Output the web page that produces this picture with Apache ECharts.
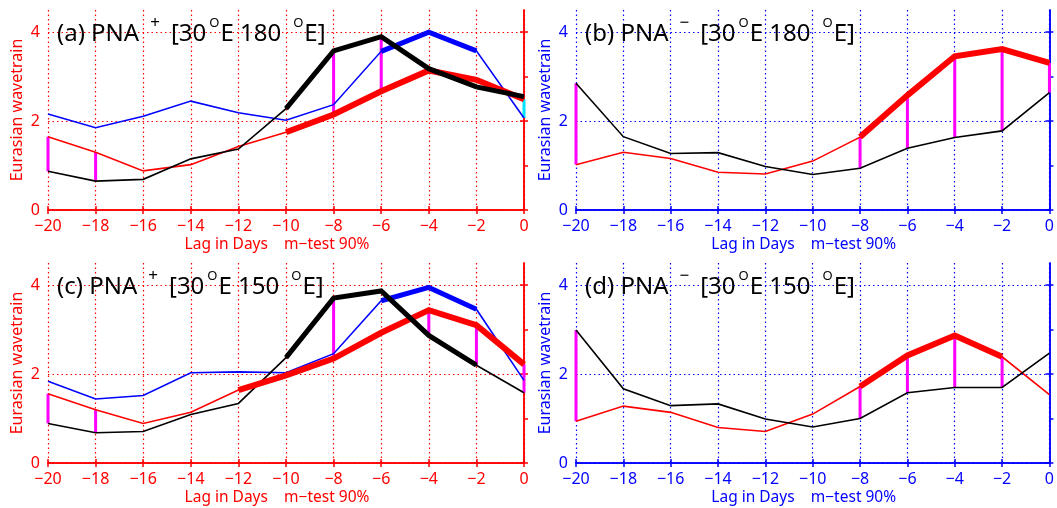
<!DOCTYPE html>
<html>
<head>
<meta charset="utf-8">
<script src="https://cdn.jsdelivr.net/npm/echarts@6/dist/echarts.min.js"></script>
<style>
  html, body { margin: 0; background: #fff; }
  #main { width: 1057px; height: 508px; }
</style>
</head>
<body>
<div id="main"></div>
<script>
// lag axis (days) shared by all four panels
var lags = [-20, -18, -16, -14, -12, -10, -8, -6, -4, -2, 0];
var yLabels = [0, 2, 4];
var yTicks = [0, 1, 2, 3, 4];

// (a) PNA+ [30E 180E]
var aRed   = [1.65, 1.30, 0.88, 1.02, 1.43, 1.75, 2.15, 2.67, 3.14, 2.93, 2.49];
var aBlack = [0.87, 0.65, 0.69, 1.15, 1.37, 2.28, 3.58, 3.90, 3.18, 2.77, 2.55];
var aBlue  = [2.16, 1.85, 2.11, 2.45, 2.19, 2.02, 2.37, 3.57, 4.00, 3.58, 2.07];
var aRedSig = [-10, 0], aBlackSig = [-10, 0], aBlueSig = [-6, -2];
var aDiffLags = [-20, -18, -8, -6]; // red vs black, magenta
var aCyanLags = [0];                // red vs blue, cyan

// (b) PNA- [30E 180E]
var bRed   = [1.02, 1.30, 1.16, 0.85, 0.81, 1.10, 1.64, 2.58, 3.46, 3.62, 3.31];
var bBlack = [2.85, 1.65, 1.27, 1.29, 0.98, 0.80, 0.94, 1.39, 1.63, 1.78, 2.64];
var bRedSig = [-8, 0];
var bDiffLags = [-20, -8, -6, -4, -2, 0];

// (c) PNA+ [30E 150E]
var cRed   = [1.56, 1.20, 0.89, 1.14, 1.64, 1.97, 2.35, 2.93, 3.44, 3.10, 2.22];
var cBlack = [0.89, 0.68, 0.71, 1.09, 1.34, 2.37, 3.71, 3.87, 2.87, 2.20, 1.58];
var cBlue  = [1.84, 1.44, 1.52, 2.03, 2.05, 2.03, 2.46, 3.65, 3.95, 3.46, 1.86];
var cRedSig = [-12, 0], cBlackSig = [-10, -2], cBlueSig = [-6, -2];
var cDiffLags = [-20, -18, -8, -4, -2, 0];

// (d) PNA- [30E 150E]
var dRed   = [0.94, 1.28, 1.14, 0.80, 0.71, 1.10, 1.72, 2.42, 2.87, 2.39, 1.54];
var dBlack = [2.99, 1.67, 1.29, 1.33, 0.99, 0.81, 1.00, 1.58, 1.70, 1.70, 2.47];
var dRedSig = [-8, -2];
var dDiffLags = [-20, -8, -6, -4, -2];

var panels = [
  { tag: 'a', sign: '+', lon: '180', red: aRed, black: aBlack, blue: aBlue,
    redSig: aRedSig, blackSig: aBlackSig, blueSig: aBlueSig, diff: aDiffLags, cyan: aCyanLags },
  { tag: 'b', sign: '\u2212', lon: '180', red: bRed, black: bBlack,
    redSig: bRedSig, diff: bDiffLags },
  { tag: 'c', sign: '+', lon: '150', red: cRed, black: cBlack, blue: cBlue,
    redSig: cRedSig, blackSig: cBlackSig, blueSig: cBlueSig, diff: cDiffLags },
  { tag: 'd', sign: '\u2212', lon: '150', red: dRed, black: dBlack,
    redSig: dRedSig, diff: dDiffLags }
];

// grid boxes: left column red frame, right column blue frame
var layout = [
  { left: 48, top: 10, color: '#ff0000' },
  { left: 576, top: 10, color: '#0000ff' },
  { left: 48, top: 263, color: '#ff0000' },
  { left: 576, top: 263, color: '#0000ff' }
];

var FONT = 'Noto Sans';

function pairs(vals) {
  return lags.map(function (x, i) { return [x, vals[i]]; });
}
function sigPairs(vals, range) {
  return lags.map(function (x, i) {
    return (x >= range[0] && x <= range[1]) ? [x, vals[i]] : [x, null];
  });
}
function diffPairs(days, top, bottom) {
  return days.map(function (d) {
    var i = lags.indexOf(d);
    return [d, top[i], bottom[i]];
  });
}
function minusFmt(v) {
  return v < 0 ? '\u2212' + Math.abs(v) : String(v);
}

function lineSeries(idx, data, color, width, z) {
  return {
    type: 'line', xAxisIndex: idx * 2, yAxisIndex: idx * 2,
    data: data, showSymbol: false, symbol: 'none', silent: true,
    connectNulls: false, z: z,
    lineStyle: { color: color, width: width, cap: 'butt', join: 'miter' }
  };
}
function diffSeries(idx, data, color) {
  return {
    type: 'custom', xAxisIndex: idx * 2, yAxisIndex: idx * 2,
    data: data, silent: true, z: 1,
    encode: { x: 0, y: [1, 2] },
    renderItem: function (params, api) {
      var p1 = api.coord([api.value(0), api.value(1)]);
      var p2 = api.coord([api.value(0), api.value(2)]);
      return {
        type: 'line',
        shape: { x1: p1[0], y1: p1[1], x2: p2[0], y2: p2[1] },
        style: { stroke: color, lineWidth: 3 }
      };
    }
  };
}

var grids = [], xAxes = [], yAxes = [], series = [], titles = [];

layout.forEach(function (g, idx) {
  var p = panels[idx];
  var c = g.color;
  var dots = { color: c, width: 1.2, type: [1.5, 3] };
  var tick = { lineStyle: { color: c, width: 1.5 }, length: 4 };
  grids.push({ left: g.left, top: g.top, width: 476, height: 200, show: false });

  // bottom + top x axes
  xAxes.push({
    gridIndex: idx, type: 'value', min: -20, max: 0, interval: 2,
    axisLine: { lineStyle: { color: c, width: 1.5 } },
    axisTick: tick,
    axisLabel: { color: c, fontSize: 16, fontFamily: FONT, margin: 8, formatter: minusFmt },
    splitLine: { show: true, lineStyle: dots },
    name: 'Lag in Days    m\u2212test 90%', nameLocation: 'middle', nameGap: 27,
    nameTextStyle: { color: c, fontSize: 15.5, fontFamily: FONT, padding: [0, 18, 0, 0] }
  });
  xAxes.push({
    gridIndex: idx, type: 'value', position: 'top', min: -20, max: 0, interval: 2,
    axisLine: { lineStyle: { color: c, width: 1.5 } },
    axisTick: tick,
    axisLabel: { show: false }, splitLine: { show: false }
  });

  // left + right y axes
  yAxes.push({
    gridIndex: idx, type: 'value', min: 0, max: 4.5, interval: 1,
    axisLine: { show: true, lineStyle: { color: c, width: 1.5 } },
    axisTick: { show: true, lineStyle: tick.lineStyle, length: 4, customValues: yLabels },
    axisLabel: {
      color: c, fontSize: 16, fontFamily: FONT, margin: 8, customValues: yLabels
    },
    splitLine: { show: true, lineStyle: dots },
    name: 'Eurasian wavetrain', nameLocation: 'middle', nameGap: 23, nameRotate: 90,
    nameTextStyle: { color: c, fontSize: 16, fontFamily: FONT }
  });
  yAxes.push({
    gridIndex: idx, type: 'value', position: 'right', min: 0, max: 4.5, interval: 1,
    axisLine: { show: true, lineStyle: { color: c, width: 1.5 } },
    axisTick: { show: true, lineStyle: tick.lineStyle, length: 4, customValues: yTicks },
    axisLabel: { show: false }, splitLine: { show: false }
  });

  // difference bars under the curves
  series.push(diffSeries(idx, diffPairs(p.diff, p.red, p.black), '#ff00ff'));
  if (p.cyan) series.push(diffSeries(idx, diffPairs(p.cyan, p.red, p.blue), '#00e5ff'));

  // thin full curves, thick where significant
  series.push(lineSeries(idx, pairs(p.red), '#ff0000', 1.6, 3));
  if (p.blue) series.push(lineSeries(idx, pairs(p.blue), '#0000ff', 1.6, 3));
  series.push(lineSeries(idx, pairs(p.black), '#000000', 1.6, 3));
  series.push(lineSeries(idx, sigPairs(p.red, p.redSig), '#ff0000', 6, 4));
  if (p.blueSig) series.push(lineSeries(idx, sigPairs(p.blue, p.blueSig), '#0000ff', 5, 4));
  if (p.blackSig) series.push(lineSeries(idx, sigPairs(p.black, p.blackSig), '#000000', 5, 4));

  titles.push({
    left: g.left + 4, top: g.top,
    text: '{m|(' + p.tag + ') PNA}{p|' + p.sign + '}{m|[30}{o|O}{m|E ' + p.lon + '}{q|O}{m|E]}',
    textStyle: {
      fontWeight: 'normal',
      rich: {
        m: { fontSize: 24, fontFamily: FONT, fontWeight: 'normal', color: '#000' },
        p: { fontSize: 17, fontFamily: FONT, fontWeight: 'normal', color: '#000', padding: [0, 11, 22, 11] },
        o: { fontSize: 13, fontFamily: FONT, fontWeight: 'normal', color: '#000', padding: [0, 1, 22, 3] },
        q: { fontSize: 13, fontFamily: FONT, fontWeight: 'normal', color: '#000', padding: [0, 1, 22, 12] }
      }
    }
  });
});

var chart = echarts.init(document.getElementById('main'), null, { renderer: 'canvas' });
chart.setOption({
  backgroundColor: '#ffffff',
  animation: false,
  title: titles,
  grid: grids,
  xAxis: xAxes,
  yAxis: yAxes,
  series: series
});
</script>
</body>
</html>
